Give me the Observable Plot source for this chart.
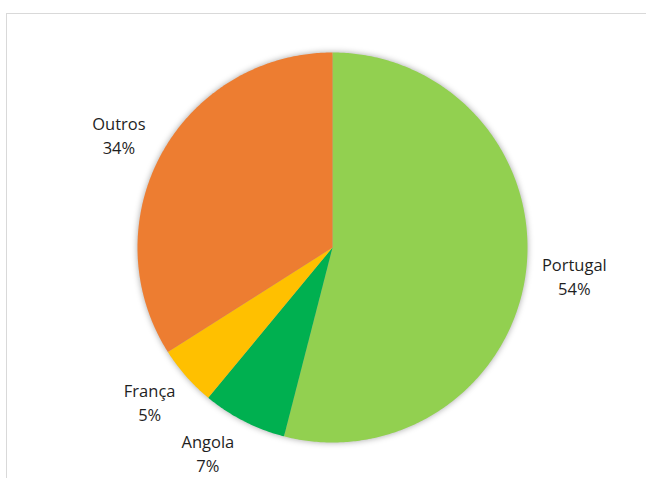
<!DOCTYPE html>
<html>
<head>
<meta charset="utf-8">
<script src="https://cdn.jsdelivr.net/npm/d3@7"></script>
<script src="https://cdn.jsdelivr.net/npm/@observablehq/plot@0.6"></script>
<style>
  html, body { margin: 0; padding: 0; background: #fff; overflow: hidden; }
  #wrap { position: relative; width: 646px; height: 478px; }
  #frame { position: absolute; left: 6px; top: 13px; width: 700px; height: 520px; border: 1px solid #d9d9d9; box-sizing: border-box; }
  #chart { position: absolute; left: 0; top: 0; }
</style>
</head>
<body>
<div id="wrap"><div id="frame"></div><div id="chart"></div></div>
<script>
const categories = ["Portugal", "Angola", "França", "Outros"];
const shares = [54, 7, 5, 34];
const colors = ["#92D050", "#00B050", "#FFC000", "#ED7D31"];

// slice angles (clockwise from 12 o'clock)
const pie = d3.pie().sort(null).value(d => d)(shares);

const slicePts = [];
pie.forEach((p, i) => {
  const steps = Math.max(2, Math.ceil((p.endAngle - p.startAngle) / 0.01));
  slicePts.push({cat: categories[i], x: 0, y: 0});
  for (let k = 0; k <= steps; k++) {
    const a = p.startAngle + (p.endAngle - p.startAngle) * k / steps;
    slicePts.push({cat: categories[i], x: Math.sin(a), y: Math.cos(a)});
  }
  slicePts.push({cat: categories[i], x: 0, y: 0});
});

const labelR = 1.25;
// small placement nudges (pixels) to mimic the spreadsheet's best-fit labels
const nudges = {"Portugal": [0, -3], "Angola": [-14, -12], "França": [0, -7], "Outros": [0, 4]};
const labels = pie.map((p, i) => {
  const a = (p.startAngle + p.endAngle) / 2;
  return {cat: categories[i], text: `${categories[i]}\n${shares[i]}%`, x: labelR * Math.sin(a), y: labelR * Math.cos(a)};
});

const chart = Plot.plot({
  width: 646,
  height: 478,
  marginLeft: 137,
  marginRight: 119,
  marginTop: 52,
  marginBottom: 36,
  x: {domain: [-1, 1], axis: null},
  y: {domain: [-1, 1], axis: null},
  color: {domain: categories, range: colors},
  style: {fontFamily: "'Open Sans', sans-serif", background: "transparent", overflow: "visible"},
  marks: [
    Plot.line(slicePts, {x: "x", y: "y", z: "cat", fill: "cat", stroke: null, curve: "linear"}),
    ...labels.map(l => Plot.text([l], {x: "x", y: "y", text: "text", fontSize: 16.5, fill: "#1f1f1f", lineHeight: 1.45, textAnchor: "middle", dx: nudges[l.cat][0], dy: nudges[l.cat][1]}))
  ]
});
chart.querySelectorAll('g[aria-label="line"]').forEach(g => {
  g.style.filter = "drop-shadow(0px 0px 3px rgba(0,0,0,0.35))";
});
document.getElementById("chart").appendChild(chart);
</script>
</body>
</html>
